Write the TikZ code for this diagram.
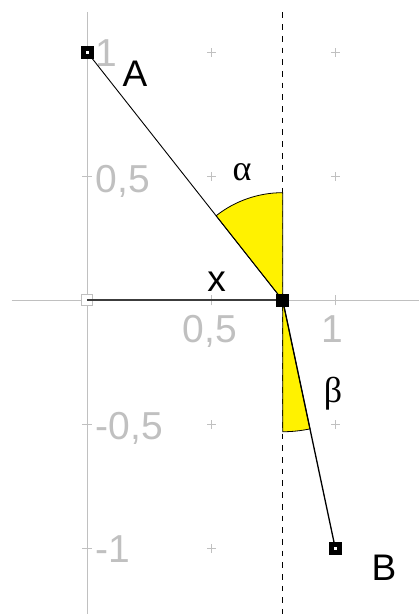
\documentclass[tikz,border=0pt]{standalone}
\usepackage{fontspec}
\setmainfont{Liberation Sans}
\newfontfamily\greekfont{Liberation Serif}
\definecolor{axisgray}{RGB}{192,192,192}
\definecolor{segdark}{RGB}{60,60,60}
\tikzset{
  axisline/.style={draw=axisgray,line width=1.6pt},
  tickmark/.style={draw=axisgray,line width=0.9pt},
  gridplus/.style={draw=axisgray,line width=0.9pt},
  axislabel/.style={text=axisgray,inner sep=0pt,font=\fontsize{39}{42}\selectfont},
  ptlabel/.style={inner sep=0pt,font=\fontsize{37}{40}\selectfont},
  greeklabel/.style={inner sep=0pt,font=\greekfont\fontsize{36}{40}\selectfont},
  ptbox/.style={draw=none,fill=black,minimum size=13pt,inner sep=0pt,rectangle},
  ptmark/.style={fill=white,minimum size=3.5pt,inner sep=0pt,rectangle},
  sector/.style={fill=yellow,draw=black,line width=0.8pt},
  dashedline/.style={draw=black,line width=1.5pt,dash pattern=on 5.7pt off 6pt}
}
\begin{document}
\begin{tikzpicture}[x=248pt,y=248pt]
\useasboundingbox (-0.35202,-1.26492) rectangle (1.33750,1.21089);
% key points
\coordinate (O) at (0,0);
\coordinate (A) at (0,1);
\coordinate (P) at (0.788,0);
\coordinate (B) at (1,-1);
\coordinate (ytop) at (0,1.1625);
\coordinate (ybot) at (0,-1.26492);
\coordinate (xleft) at (-0.305,0);
\coordinate (xright) at (1.3375,0);
\coordinate (dtop) at (0.788,1.1605);
\coordinate (dbot) at (0.788,-1.26492);
% axes
\draw[axisline] (ytop) -- (ybot);
\draw[axisline] (xleft) -- (xright);
% ticks
\foreach \t in {0.5,1}{\draw[tickmark] (\t,-0.02) -- (\t,0.02);}
\foreach \t in {1,0.5,-0.5,-1}{\draw[tickmark] (-0.02,\t) -- (0.02,\t);}
% grid pluses
\foreach \gx in {0.5,1}{
  \foreach \gy in {1,0.5,-0.5,-1}{
    \draw[gridplus] (\gx-0.017,\gy) -- (\gx+0.017,\gy) (\gx,\gy-0.017) -- (\gx,\gy+0.017);
  }
}
% axis labels
\node[axislabel,anchor=base west] (ly1) at (0.034,1-0.056) {1};
\node[axislabel,anchor=base west] (ly05) at (0.034,0.5-0.066) {0,5};
\node[axislabel,anchor=base west] (lym05) at (0.034,-0.5-0.06) {-0,5};
\node[axislabel,anchor=base west] (lym1) at (0.034,-1-0.056) {-1};
\node[axislabel,anchor=base] (lx05) at (0.494,-0.170) {0,5};
\node[axislabel,anchor=base] (lx1) at (0.99,-0.170) {1};
% dashed vertical
\draw[dashedline] (dtop) -- (dbot);
% sectors
\draw[sector] (P) -- ++(90:0.434) arc[start angle=90,end angle=128.24,radius=0.434] -- cycle;
\draw[sector] (P) -- ++(270:0.53) arc[start angle=270,end angle=281.97,radius=0.53] -- cycle;
% origin marker
\node[draw=axisgray,fill=white,line width=0.9pt,minimum size=11pt,inner sep=0pt,rectangle] (nO) at (O) {};
% segments
\draw[draw=segdark,line width=2.2pt] (O) -- (P);
\draw[black,line width=0.9pt] (A) -- (P);
\draw[black,line width=1.3pt] (P) -- (B);
% points
\node[ptbox] (nA) at (A) {};
\node[ptmark] (mA) at (A) {};
\node[ptbox] (nP) at (P) {};
\node[ptbox] (nB) at (B) {};
\node[ptmark] (mB) at (B) {};
% labels
\node[ptlabel] (tA) at (0.1923,0.9125) {A};
\node[ptlabel] (tB) at (1.1964,-1.0794) {B};
\node[ptlabel] (tx) at (0.5218,0.0738) {x};
\node[greeklabel] (talpha) at (0.6238,0.5153) {α};
\node[greeklabel] (tbeta) at (0.9907,-0.3778) {β};
\end{tikzpicture}
\end{document}
